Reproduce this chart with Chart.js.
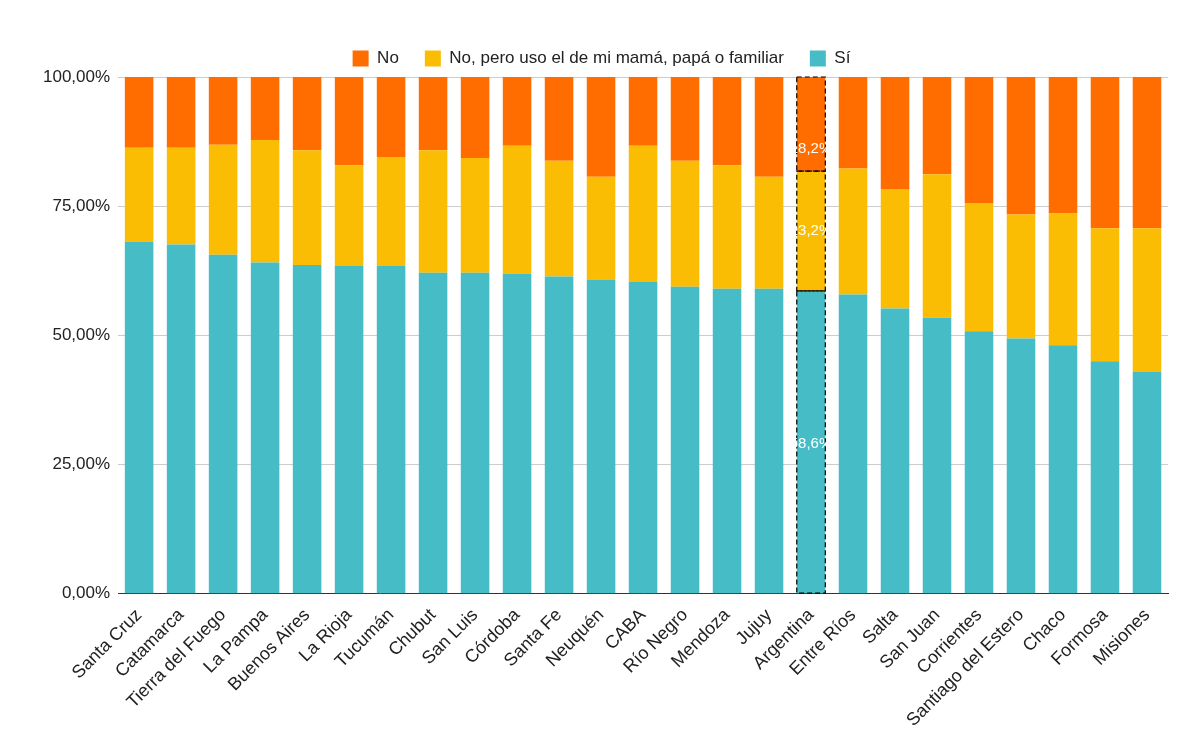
<!DOCTYPE html>
<html>
<head>
<meta charset="utf-8">
<script src="https://cdn.jsdelivr.net/npm/chart.js@4"></script>
<style>
  body { margin: 0; background: #fff; }
  #wrap { width: 1200px; height: 742px; }
</style>
</head>
<body>
<div id="wrap"><canvas id="chart"></canvas></div>
<script>
// Provinces, left to right
const provinces = ['Santa Cruz', 'Catamarca', 'Tierra del Fuego', 'La Pampa', 'Buenos Aires', 'La Rioja',
    'Tucumán', 'Chubut', 'San Luis', 'Córdoba', 'Santa Fe', 'Neuquén', 'CABA', 'Río Negro', 'Mendoza',
    'Jujuy', 'Argentina', 'Entre Ríos', 'Salta', 'San Juan', 'Corrientes', 'Santiago del Estero',
    'Chaco', 'Formosa', 'Misiones'];

// Share of each answer, in %
const si = [68.1, 67.6, 65.6, 64.1, 63.6, 63.4, 63.4, 62.1, 62.1, 61.9, 61.4, 60.8, 60.3, 59.4, 59.0,
    59.0, 58.6, 57.9, 55.2, 53.4, 50.8, 49.4, 48.1, 45.0, 43.0];
const familiar = [18.2, 18.7, 21.3, 23.7, 22.2, 19.5, 21.1, 23.7, 22.2, 24.8, 22.4, 19.9, 26.4, 24.4, 23.9,
    21.7, 23.2, 24.4, 23.1, 27.8, 24.8, 24.0, 25.5, 25.7, 27.7];
const no = [13.7, 13.7, 13.1, 12.2, 14.2, 17.1, 15.5, 14.2, 15.7, 13.3, 16.2, 19.3, 13.3, 16.2, 17.1,
    19.3, 18.2, 17.7, 21.7, 18.8, 24.4, 26.6, 26.4, 29.3, 29.3];

const yTicks = [0, 25, 50, 75, 100];
const highlight = provinces.indexOf('Argentina');

const fmt = v => v.toFixed(2).replace('.', ',') + '%';

// Dashed outline and value labels for the highlighted bar
const highlightPlugin = {
    id: 'highlight',
    afterDatasetsDraw(chart) {
        const ctx = chart.ctx;
        ctx.save();
        chart.data.datasets.forEach((ds, i) => {
            const el = chart.getDatasetMeta(i).data[highlight];
            const p = el.getProps(['x', 'y', 'base', 'width'], true);
            ctx.setLineDash([5, 3]);
            ctx.strokeStyle = '#000';
            ctx.lineWidth = 1.2;
            ctx.strokeRect(p.x - p.width / 2, p.y, p.width, p.base - p.y);
            ctx.setLineDash([]);
            ctx.fillStyle = '#fff';
            ctx.font = '15px "Liberation Sans", Arial, sans-serif';
            ctx.textAlign = 'center';
            ctx.textBaseline = 'middle';
            const v = ds.data[highlight].toFixed(1).replace('.', ',') + '%';
            let ly = (p.y + p.base) / 2;
            if (i === 0) ly = chart.scales.y.getPixelForValue(29);
            if (i === 2) ly = p.base - 22;
            ctx.fillText(v, p.x, ly);
        });
        ctx.restore();
    }
};

new Chart(document.getElementById('chart'), {
    type: 'bar',
    data: {
        labels: provinces,
        datasets: [
            { label: 'Sí', data: si, backgroundColor: '#46bdc6' },
            { label: 'No, pero uso el de mi mamá, papá o familiar', data: familiar, backgroundColor: '#fbbc04' },
            { label: 'No', data: no, backgroundColor: '#ff6d01' }
        ]
    },
    options: {
        responsive: true,
        maintainAspectRatio: false,
        animation: false,
        layout: { padding: { left: 35, right: 32, top: 24, bottom: 8 } },
        datasets: { bar: { categoryPercentage: 1, barPercentage: 0.68 } },
        plugins: {
            legend: {
                position: 'top',
                reverse: true,
                labels: {
                    usePointStyle: true,
                    pointStyle: 'rect',
                    boxWidth: 16,
                    boxHeight: 16,
                    padding: 26,
                    color: '#222',
                    font: { size: 17, family: '"Liberation Sans", Arial, sans-serif' }
                }
            },
            tooltip: { enabled: false }
        },
        scales: {
            x: {
                stacked: true,
                grid: { display: false },
                border: { color: '#333' },
                ticks: {
                    autoSkip: false,
                    maxRotation: 45,
                    minRotation: 45,
                    color: '#222',
                    font: { size: 18, family: '"Liberation Sans", Arial, sans-serif' }
                }
            },
            y: {
                stacked: true,
                min: 0,
                max: 100,
                afterBuildTicks: axis => { axis.ticks = yTicks.map(v => ({ value: v })); },
                grid: { color: '#ccc', drawTicks: false },
                border: { display: false },
                ticks: {
                    padding: 8,
                    color: '#222',
                    font: { size: 17, family: '"Liberation Sans", Arial, sans-serif' },
                    callback: v => fmt(v)
                }
            }
        }
    },
    plugins: [highlightPlugin]
});
</script>
</body>
</html>
